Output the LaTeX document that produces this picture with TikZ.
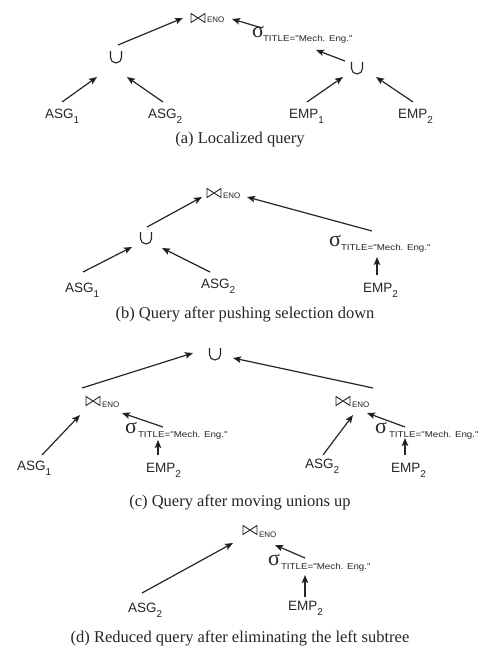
\documentclass[tikz,border=0pt]{standalone}
\usepackage{fontspec}
\setmainfont{Liberation Serif}
\newfontfamily\labfont{Liberation Sans}
\newfontfamily\labwide[FakeStretch=1.15]{Liberation Sans}
\usetikzlibrary{arrows.meta}
\newcommand\leaf[2]{{\labfont\fontsize{13.5}{14}\selectfont #1\raisebox{-5pt}{\fontsize{10}{10}\selectfont #2}}}
\newcommand\joinsym{\tikz[x=1pt,y=1pt,line width=0.9pt,line join=miter]\draw[black!85] (0,0) -- (0,9) -- (14,0) -- (14,9) -- cycle;}
\newcommand\unionsym{\tikz[x=1pt,y=1pt,line width=1.1pt]\draw[black!85] (0,12) -- (0,5.5) arc[start angle=180,end angle=360,radius=5.5] -- (11,12);}
\newcommand\sigmasym{{\fontsize{22}{22}\selectfont σ}}
\newcommand\enosub{{\labfont\fontsize{8}{8}\selectfont ENO}}
\newcommand\titlesub{{\labwide\fontsize{8.5}{8.5}\selectfont TITLE="Mech. Eng."}}
\newcommand\capt[1]{{\fontsize{16.5}{18}\selectfont #1}}
\begin{document}
\begin{tikzpicture}[x=1pt,y=-1pt,
  every node/.style={inner sep=0pt,outer sep=0pt,text=black!85},
  leafnode/.style={anchor=base west},
  opnode/.style={anchor=center},
  subnode/.style={anchor=base west},
  captnode/.style={anchor=base},
  arr/.style={draw=black!85,line width=1.2pt,-{Stealth[length=8pt,width=6.5pt,inset=1.5pt]}}]
\useasboundingbox[fill=white] (0,0) rectangle (491,650);

% ---------- (a) ----------
\node[leafnode] (asg1a) at (45,119) {\leaf{ASG}{1}};
\node[leafnode] (asg2a) at (148,119) {\leaf{ASG}{2}};
\node[leafnode] (emp1a) at (289,119) {\leaf{EMP}{1}};
\node[leafnode] (emp2a) at (398,119) {\leaf{EMP}{2}};
\node[opnode] (u1a) at (116,57) {\unionsym};
\node[opnode] (u2a) at (357,68) {\unionsym};
\node[opnode] (ja) at (198,18) {\joinsym};
\node[subnode] (jasub) at (207,23) {\enosub};
\node[leafnode] (sa) at (252,38) {\sigmasym};
\node[subnode] (sasub) at (263,42) {\titlesub};
\node[captnode] (capa) at (240,143) {\capt{(a) Localized query}};
\draw[arr] ([shift={(17,-17)}]asg1a.base west) -- ([shift={(-19,20)}]u1a.center);
\draw[arr] ([shift={(15,-17)}]asg2a.base west) -- ([shift={(11,20)}]u1a.center);
\draw[arr] ([shift={(2,-12)}]u1a.center) -- ([shift={(-15,0)}]ja.center);
\draw[arr] ([shift={(10,-10)}]sa.base west) -- ([shift={(34,1)}]ja.center);
\draw[arr] ([shift={(-12,-7)}]u2a.center) -- ([shift={(64,12)}]sa.base west);
\draw[arr] ([shift={(18,-17)}]emp1a.base west) -- ([shift={(-14,9)}]u2a.center);
\draw[arr] ([shift={(15,-17)}]emp2a.base west) -- ([shift={(19,9)}]u2a.center);

% ---------- (b) ----------
\node[leafnode] (asg1b) at (65,292) {\leaf{ASG}{1}};
\node[leafnode] (asg2b) at (201,288) {\leaf{ASG}{2}};
\node[leafnode] (emp2b) at (363,292) {\leaf{EMP}{2}};
\node[opnode] (ub) at (146,238) {\unionsym};
\node[opnode] (jb) at (214,193) {\joinsym};
\node[subnode] (jbsub) at (223,198) {\enosub};
\node[leafnode] (sb) at (329,246) {\sigmasym};
\node[subnode] (sbsub) at (341,250) {\titlesub};
\node[captnode] (capb) at (245,318) {\capt{(b) Query after pushing selection down}};
\draw[arr] ([shift={(18,-20)}]asg1b.base west) -- ([shift={(-14,9)}]ub.center);
\draw[arr] ([shift={(9,-16)}]asg2b.base west) -- ([shift={(16,10)}]ub.center);
\draw[arr] ([shift={(1,-11)}]ub.center) -- ([shift={(-12,4)}]jb.center);
\draw[arr] ([shift={(43,-15)}]sb.base west) -- ([shift={(33,4)}]jb.center);
\draw[arr] ([shift={(14,-17)}]emp2b.base west) -- ([shift={(48,11)}]sb.base west);

% ---------- (c) ----------
\node[opnode] (uc) at (215,354) {\unionsym};
\node[opnode] (jcl) at (93,401) {\joinsym};
\node[subnode] (jclsub) at (102,407) {\enosub};
\node[opnode] (jcr) at (343,401) {\joinsym};
\node[subnode] (jcrsub) at (352,407) {\enosub};
\node[leafnode] (scl) at (125,433) {\sigmasym};
\node[subnode] (sclsub) at (138,437) {\titlesub};
\node[leafnode] (scr) at (375,433) {\sigmasym};
\node[subnode] (scrsub) at (389,437) {\titlesub};
\node[leafnode] (asg1c) at (17,470) {\leaf{ASG}{1}};
\node[leafnode] (emp2cl) at (146,472) {\leaf{EMP}{2}};
\node[leafnode] (asg2c) at (305,468) {\leaf{ASG}{2}};
\node[leafnode] (emp2cr) at (391,472) {\leaf{EMP}{2}};
\node[captnode] (capc) at (240,506) {\capt{(c) Query after moving unions up}};
\draw[arr] ([shift={(-11,-13)}]jcl.center) -- ([shift={(-22,-1)}]uc.center);
\draw[arr] ([shift={(30,-13)}]jcr.center) -- ([shift={(18,4)}]uc.center);
\draw[arr] ([shift={(25,-15)}]asg1c.base west) -- ([shift={(-13,14)}]jcl.center);
\draw[arr] ([shift={(38,-6)}]scl.base west) -- ([shift={(29,12)}]jcl.center);
\draw[arr] ([shift={(12,-17)}]emp2cl.base west) -- ([shift={(33,7)}]scl.base west);
\draw[arr] ([shift={(18,-13)}]asg2c.base west) -- ([shift={(10,14)}]jcr.center);
\draw[arr] ([shift={(30,-6)}]scr.base west) -- ([shift={(24,12)}]jcr.center);
\draw[arr] ([shift={(14,-17)}]emp2cr.base west) -- ([shift={(30,5)}]scr.base west);

% ---------- (d) ----------
\node[opnode] (jd) at (250,530) {\joinsym};
\node[subnode] (jdsub) at (259,537) {\enosub};
\node[leafnode] (sd) at (268,565) {\sigmasym};
\node[subnode] (sdsub) at (281,569) {\titlesub};
\node[leafnode] (asg2d) at (128,612) {\leaf{ASG}{2}};
\node[leafnode] (emp2d) at (288,610) {\leaf{EMP}{2}};
\node[captnode] (capd) at (240,642) {\capt{(d) Reduced query after eliminating the left subtree}};
\draw[arr] ([shift={(14,-19)}]asg2d.base west) -- ([shift={(-17,13)}]jd.center);
\draw[arr] ([shift={(37,-7)}]sd.base west) -- ([shift={(25,15)}]jd.center);
\draw[arr] ([shift={(17,-13)}]emp2d.base west) -- ([shift={(37,10)}]sd.base west);
\end{tikzpicture}
\end{document}
